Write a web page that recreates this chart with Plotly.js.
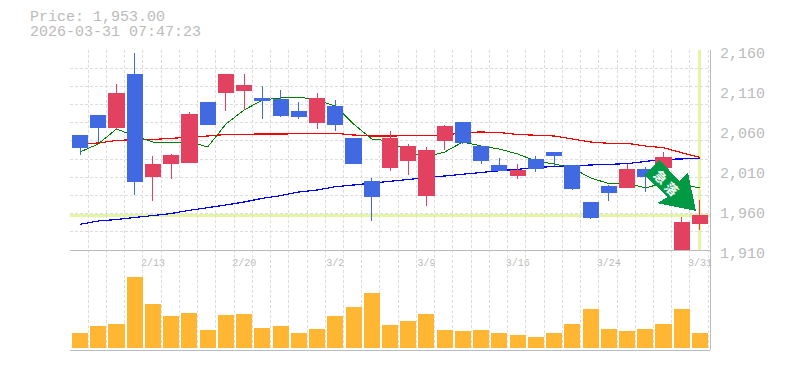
<!DOCTYPE html>
<html><head><meta charset="utf-8">
<script src="https://cdn.plot.ly/plotly-3.0.1.min.js"></script>
<style>
html,body{margin:0;padding:0;background:#fff;overflow:hidden}
#c{width:785px;height:370px}
#c svg *{shape-rendering:crispEdges}
</style></head><body><div id="c"></div>
<script>
const session=[...Array(35).keys()];
const tickLabels=["2/13","2/20","3/2","3/9","3/16","3/24","3/31"];
const tickIdx=[4,9,14,19,24,29,34];
const open=[2053.75,2078.75,2063.75,2130,2002.5,2018.75,2020,2095,2107.5,2110,2100,2098.75,2083.75,2070,2090,2050,1996.25,2013.75,2022.5,1978.75,2047.5,2070,2040,2016.25,2003.75,2023.75,2032.5,2016.25,1970,1990,1988.75,2011.25,2013.75,1911.25,1943.75];
const close=[2038.75,2063.75,2106.25,1996.25,2017.5,2028.75,2080,2067.5,2130,2116.25,2097.5,2078.75,2077.5,2100,2067.5,2018.75,1977.5,2050,2040,2035,2065,2045,2022.5,2010,2010,2012.5,2028.75,1987.5,1951.25,1982.5,2011.25,2002.5,2026.25,1945,1953];
const high=[2053.75,2078.75,2117.5,2156.25,2027.5,2030,2082.5,2095,2130,2130,2115,2110,2095,2106.25,2097.5,2050,2000,2058.75,2042.5,2038.75,2066.25,2070,2040,2025,2017.5,2027.5,2032.5,2016.25,1970,1991.25,2017.5,2013.75,2032.5,1951.25,1972.5];
const low=[2028.75,2045,2060,1978.75,1971.25,1998.75,2020,2066.25,2083.75,2085,2073.75,2076.25,2073.75,2061.25,2058.75,2018.75,1946.25,2008.75,2003.75,1965,2035,2042.5,2017.5,2010,1998.75,2007.5,2015,1985,1948.75,1971.25,1988.75,1982.5,2013.75,1908.75,1935];
const maShort=[2032.5,2042.5,2061.25,2052.5,2045,2044.4,2045.4,2038.75,2067.5,2085,2097.5,2100,2101.25,2097.5,2090,2067.5,2048.75,2046.25,2032.5,2026.25,2032.5,2045,2040,2036.25,2030,2021.25,2017.5,2012.5,2000,1993.1,1993.75,1987.5,1993.75,1992.5,1987.5];
const maMid=[2042.5,2043.75,2046.9,2048.1,2048.1,2049.4,2051.25,2052.5,2054.4,2055,2055,2055,2055,2055.9,2055.9,2053.75,2052.5,2052.5,2053.1,2053.1,2053.1,2056.9,2057.5,2056.9,2054.4,2053.4,2052.5,2048.75,2045,2043.4,2043.4,2040,2037.9,2031.6,2025.9];
const maLong=[1942.1,1946.25,1948.1,1950.4,1952.9,1955.6,1959.6,1962.5,1966.25,1970,1974.6,1977.9,1982.5,1985,1989.1,1991.25,1993.75,1996.25,1998.75,2000.4,2002.5,2005,2006.6,2009.1,2010.9,2012.9,2014.6,2015.4,2015.9,2017.1,2017.9,2020.4,2023.4,2023.75,2025];
const volume=[15,22,24,71,44,32,35,18,33,34,20,22,15,19,32,41,55,23,27,34,18,17,18,15,13,11,15,24,39,19,17,19,24,39,15];
const priceLabels=[2160,2110,2060,2010,1960,1910];
const lastPrice=1953.00, stamp="2026-03-31 07:47:23";

const xr=[-0.55,34.55];
const gridX=[];for(let k=0;k<=35;k++)gridX.push(k-0.55);
const gridY=[];for(let k=0;k<=11;k++)gridY.push(2160-k*250/11);
const gc="#dddddd",fr="#bbbbbb",tc="#bbbbbb",mono="'Liberation Mono',monospace";
const up="#E2415F",dn="#4169E1";
const px=(x,y)=>[x/785,1-y/370];

const traces=[
 {type:"scatter",mode:"lines",x:session,y:maLong,xaxis:"x",yaxis:"y",line:{color:"#0000ff",width:1.2},hoverinfo:"skip"},
 {type:"scatter",mode:"lines",x:session,y:maMid,xaxis:"x",yaxis:"y",line:{color:"#ff0000",width:1.2},hoverinfo:"skip"},
 {type:"scatter",mode:"lines",x:session,y:maShort,xaxis:"x",yaxis:"y",line:{color:"#008000",width:1},hoverinfo:"skip"},
 {type:"candlestick",x:session,open:open,close:close,high:high,low:low,xaxis:"x3",yaxis:"y3",whiskerwidth:0,
  increasing:{line:{color:up,width:1},fillcolor:up},decreasing:{line:{color:dn,width:1},fillcolor:dn},hoverinfo:"skip"},
 {type:"bar",x:session,y:volume,xaxis:"x2",yaxis:"y2",marker:{color:"#FFB733",line:{width:0}},width:0.88,hoverinfo:"skip"}
];
const grid={showgrid:true,gridcolor:gc,griddash:"3px,2px",gridwidth:1,ticks:""};
const layout={
 width:785,height:370,margin:{l:0,r:0,t:0,b:0},paper_bgcolor:"#fff",plot_bgcolor:"#fff",showlegend:false,boxgap:0.17,boxgroupgap:0,
 xaxis:{domain:[70/785,710/785],range:xr,anchor:"y",tickmode:"array",tickvals:tickIdx,ticktext:tickLabels,ticks:"",showgrid:false,zeroline:false,showline:false,
  rangeslider:{visible:false},tickfont:{family:mono,size:10,color:tc},ticklabelstandoff:5,
  minor:Object.assign({tickmode:"array",tickvals:gridX},grid)},
 yaxis:{domain:[1-250/370,1-50/370],range:[1910,2160],side:"right",anchor:"x",tickmode:"array",tickvals:priceLabels,
  ticktext:priceLabels.map(v=>v.toLocaleString("en-US")),ticks:"",showgrid:false,zeroline:false,showline:false,
  tickfont:{family:mono,size:15,color:tc},ticklabelshift:3,ticklabelstandoff:9,
  minor:Object.assign({tickmode:"array",tickvals:gridY},grid)},
 xaxis3:{overlaying:"x",range:xr,anchor:"y3",visible:false,rangeslider:{visible:false}},
 yaxis3:{overlaying:"y",range:[1910,2160],anchor:"x3",visible:false},
 xaxis2:{domain:[70/785,710/785],range:xr,anchor:"y2",tickmode:"array",tickvals:[],showgrid:false,zeroline:false,showline:false,
  minor:Object.assign({tickmode:"array",tickvals:gridX},grid)},
 yaxis2:{domain:[1-350/370,1-250/370],range:[-2,98],anchor:"x2",showticklabels:false,ticks:"",showgrid:false,zeroline:false,showline:false},
 shapes:[
  {type:"line",layer:"below",xref:"x",yref:"y",x0:xr[0],x1:xr[1],y0:lastPrice,y1:lastPrice,line:{color:"#E4F5A6",width:3}},
  {type:"line",layer:"below",xref:"x",yref:"y",x0:34,x1:34,y0:1910,y1:2160,line:{color:"#E4F5A6",width:3}},
  {type:"line",layer:"above",xref:"paper",yref:"paper",x0:70/785,x1:710/785,y0:1-250/370,y1:1-250/370,line:{color:fr,width:1}},
  {type:"line",layer:"above",xref:"paper",yref:"paper",x0:70/785,x1:710/785,y0:1-350/370,y1:1-350/370,line:{color:fr,width:1}},
  {type:"line",layer:"above",xref:"paper",yref:"paper",x0:710/785,x1:710/785,y0:1-350/370,y1:1-50/370,line:{color:fr,width:1}},
  {type:"path",layer:"above",xref:"paper",yref:"paper",fillcolor:"#009944",line:{width:0},
   path:[[660,160],[644,175],[668,197],[657,203],[696,211],[688,173],[679,181]].map((p,i)=>{const q=px(p[0],p[1]);return (i?"L":"M")+q[0]+","+q[1];}).join(" ")+" Z"}
 ],
 annotations:[
  {xref:"paper",yref:"paper",x:29/785,y:1-18/370,xanchor:"left",yanchor:"middle",showarrow:false,
   text:"Price: "+lastPrice.toLocaleString("en-US",{minimumFractionDigits:2}),font:{family:mono,size:15,color:"#bbbbbb"},borderpad:0},
  {xref:"paper",yref:"paper",x:29/785,y:1-33/370,xanchor:"left",yanchor:"middle",showarrow:false,
   text:stamp,font:{family:mono,size:15,color:"#bbbbbb"},borderpad:0},
  {xref:"paper",yref:"paper",x:661/785,y:1-176/370,xanchor:"center",yanchor:"middle",showarrow:false,textangle:45,text:"<b>急</b>",font:{family:"'Noto Sans CJK JP'",size:13,color:"#fff"},borderpad:0},
  {xref:"paper",yref:"paper",x:672/785,y:1-188/370,xanchor:"center",yanchor:"middle",showarrow:false,textangle:45,text:"<b>落</b>",font:{family:"'Noto Sans CJK JP'",size:13,color:"#fff"},borderpad:0}
 ]
};
Plotly.newPlot("c",traces,layout,{displayModeBar:false,staticPlot:true});
</script></body></html>
